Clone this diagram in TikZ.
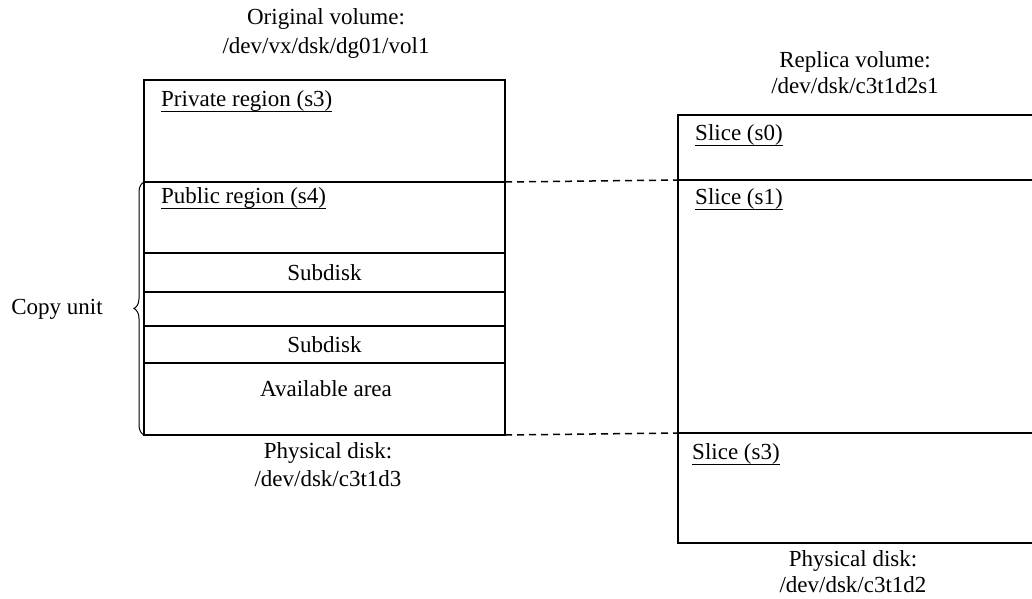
\documentclass[tikz,border=0pt]{standalone}
\usepackage{fontspec}
\setmainfont{Liberation Serif}
\usetikzlibrary{positioning, decorations.pathreplacing}
\newcommand\ultext[1]{\setbox0=\hbox{#1}\leavevmode\rlap{\copy0}\rule[-6pt]{\wd0}{1.5pt}}

\begin{document}
\begin{tikzpicture}[x=1pt, y=-1pt,
    every node/.style={font=\fontsize{23}{27}\selectfont},
    blk/.style={draw, line width=1.4pt, inner sep=0pt, outer sep=0pt},
    lblk/.style={blk, minimum width=361pt},
    rblk/.style={blk, minimum width=358pt},
    tag/.style={anchor=base west, inner sep=0pt},
    txt/.style={anchor=base, inner sep=0pt},
    link/.style={line width=1.5pt, dash pattern=on 7pt off 5pt}]
    \useasboundingbox (0,0) rectangle (1032,598);
    % original volume
    \node[lblk, minimum height=102pt, anchor=north west] (priv) at (144,80) {};
    \node[lblk, minimum height=71pt, below=0pt of priv] (pub) {};
    \node[lblk, minimum height=39pt, below=0pt of pub] (sub1) {Subdisk};
    \node[lblk, minimum height=34pt, below=0pt of sub1] (gap) {};
    \node[lblk, minimum height=37pt, below=0pt of gap] (sub2) {Subdisk};
    \node[lblk, minimum height=72pt, below=0pt of sub2] (avail) {};
    \node[tag] (privlbl) at (161,106) {\ultext{Private region (s3)}};
    \node[tag] (publbl) at (161,203) {\ultext{Public region (s4)}};
    \node[txt] (availlbl) at (326,396) {Available area};
    \node[txt] (orig) at (326,24) {Original volume:};
    \node[txt] (origdev) at (326,53) {/dev/vx/dsk/dg01/vol1};
    \node[txt] (pdisk1) at (328,458) {Physical disk:};
    \node[txt] (pdev1) at (328,486) {/dev/dsk/c3t1d3};
    % copy unit
    \draw[line width=1pt, decorate, decoration={brace, amplitude=10pt}]
        (avail.south west) -- (pub.north west);
    \node[txt] (copy) at (57,314) {Copy unit};
    % replica volume
    \node[rblk, minimum height=65pt, anchor=north west] (s0) at (678,115) {};
    \node[rblk, minimum height=253pt, below=0pt of s0] (s1) {};
    \node[rblk, minimum height=110pt, below=0pt of s1] (s3) {};
    \node[tag] (s0lbl) at (695,140) {\ultext{Slice (s0)}};
    \node[tag] (s1lbl) at (695,204) {\ultext{Slice (s1)}};
    \node[tag] (s3lbl) at (692,459) {\ultext{Slice (s3)}};
    \node[txt] (repl) at (855,67) {Replica volume:};
    \node[txt] (repldev) at (855,93) {/dev/dsk/c3t1d2s1};
    \node[txt] (pdisk2) at (853,566) {Physical disk:};
    \node[txt] (pdev2) at (853,592) {/dev/dsk/c3t1d2};
    % dashed links
    \draw[link] (pub.north east) -- (s1.north west);
    \draw[link] (avail.south east) -- (s3.north west);
\end{tikzpicture}
\end{document}
